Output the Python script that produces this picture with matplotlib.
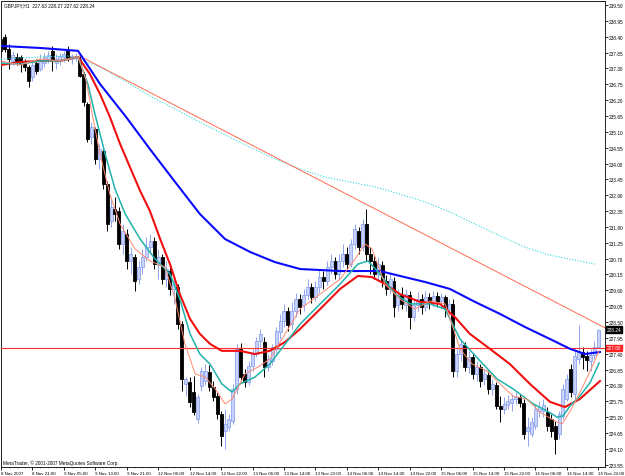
import numpy as np
import matplotlib.pyplot as plt
from matplotlib.patches import Rectangle
import matplotlib.transforms as mtransforms

plt.rcParams['font.family'] = ['Liberation Sans', 'DejaVu Sans']

# GBPJPY H1 candles, bar 0 = 8 Nov 2007 13:00
opens = [238.32, 238.39, 237.97, 237.56, 237.69, 237.69, 237.45, 237.35, 237.00, 237.49,
         237.28, 237.49, 237.63, 237.90, 237.49, 237.56, 237.69, 237.97, 237.63, 237.66,
         237.63, 237.11, 236.06, 234.92, 235.20, 234.16, 234.43, 233.29, 232.01, 232.42,
         232.35, 231.21, 231.55, 230.62, 230.76, 230.00, 230.41, 230.76, 231.10, 231.31,
         230.48, 230.76, 230.00, 230.27, 229.65, 229.72, 228.43, 226.35, 226.42, 226.07,
         225.14, 226.28, 226.45, 226.77, 226.25, 225.93, 225.31, 224.72, 224.86, 225.07,
         226.18, 227.56, 226.70, 226.42, 226.97, 227.39, 227.84, 227.81, 226.94, 227.15,
         227.56, 228.15, 228.53, 228.88, 228.43, 228.88, 229.30, 229.09, 229.44, 229.72,
         229.37, 229.72, 230.06, 229.92, 230.41, 230.62, 230.17, 230.62, 230.86, 230.51,
         231.21, 231.66, 231.10, 231.90, 230.86, 230.62, 230.17, 230.48, 229.92, 229.65,
         229.92, 229.09, 229.44, 229.09, 229.44, 228.67, 229.09, 229.30, 229.02, 229.37,
         229.16, 229.40, 229.23, 229.37, 228.95, 229.12, 226.80, 227.39, 227.70, 226.94,
         227.28, 226.70, 226.94, 226.52, 226.66, 226.18, 226.31, 225.59, 225.48, 225.62,
         225.69, 225.83, 225.90, 225.69, 224.72, 224.61, 224.89, 225.41, 225.41, 225.38,
         225.14, 224.89, 224.61, 225.24, 225.83, 226.87, 226.00, 227.22, 227.46, 227.32,
         227.15, 227.35, 227.63]
highs = [238.46, 238.49, 238.15, 237.90, 237.83, 237.76, 237.63, 237.42, 237.56, 237.63,
         237.80, 237.83, 237.90, 238.08, 237.80, 237.83, 237.90, 238.08, 237.80, 237.83,
         237.80, 237.17, 236.13, 235.44, 235.27, 234.68, 234.50, 233.39, 232.77, 232.84,
         232.49, 231.90, 231.73, 231.10, 230.86, 230.62, 231.03, 231.45, 231.55, 231.45,
         231.03, 230.86, 230.62, 230.41, 230.13, 229.82, 228.53, 226.59, 226.59, 226.63,
         226.00, 226.94, 227.04, 227.01, 226.45, 226.07, 225.41, 225.48, 225.31, 226.35,
         227.74, 227.77, 226.87, 227.15, 227.56, 227.98, 228.26, 227.98, 227.39, 227.74,
         228.33, 228.78, 229.12, 229.02, 229.19, 229.51, 229.47, 229.65, 230.00, 229.85,
         229.92, 230.34, 230.27, 230.62, 230.86, 230.76, 230.86, 231.21, 231.10, 231.38,
         231.90, 231.80, 232.07, 232.42, 231.10, 230.82, 230.76, 230.62, 230.13, 230.20,
         230.06, 229.65, 229.72, 229.65, 229.58, 229.30, 229.54, 229.47, 229.58, 229.51,
         229.58, 229.54, 229.51, 229.44, 229.30, 229.30, 227.63, 227.91, 227.81, 227.49,
         227.42, 227.15, 227.04, 226.87, 226.80, 226.52, 226.42, 225.93, 225.90, 225.97,
         226.00, 226.07, 226.00, 225.83, 225.21, 225.21, 225.66, 225.76, 225.83, 225.55,
         225.31, 225.07, 225.41, 226.35, 226.70, 227.04, 227.56, 228.40, 227.63, 227.49,
         227.56, 227.84, 228.27]
lows = [237.76, 237.87, 237.28, 237.42, 237.42, 237.17, 237.21, 236.65, 236.86, 237.11,
        237.21, 237.35, 237.49, 237.21, 237.28, 237.42, 237.52, 237.56, 237.45, 237.56,
        237.00, 235.99, 234.75, 234.68, 233.98, 233.81, 233.12, 231.66, 231.80, 232.01,
        231.03, 230.86, 230.34, 230.17, 229.58, 229.82, 230.17, 230.62, 230.86, 230.34,
        230.00, 229.82, 229.72, 229.44, 229.12, 228.26, 226.11, 225.93, 225.55, 225.27,
        225.00, 226.11, 226.31, 226.11, 225.76, 225.14, 224.20, 224.09, 224.72, 224.96,
        226.00, 226.45, 226.25, 226.31, 226.80, 227.28, 227.63, 226.59, 226.80, 227.01,
        227.42, 227.91, 228.33, 228.19, 228.26, 228.67, 228.78, 228.88, 229.30, 229.16,
        229.23, 229.51, 229.65, 229.78, 230.17, 230.00, 230.00, 230.41, 230.34, 230.41,
        231.03, 230.86, 230.96, 230.62, 230.17, 230.00, 229.92, 229.72, 229.44, 229.47,
        228.67, 228.88, 228.95, 228.88, 228.26, 228.53, 228.88, 228.78, 228.88, 228.95,
        229.02, 229.02, 228.95, 228.67, 228.74, 226.59, 226.59, 227.15, 226.80, 226.73,
        226.52, 226.45, 226.25, 226.31, 226.00, 225.97, 225.48, 225.03, 225.31, 225.48,
        225.41, 225.66, 225.55, 224.44, 224.20, 224.51, 224.79, 225.21, 225.21, 224.72,
        224.51, 223.92, 224.44, 225.14, 225.76, 225.90, 225.83, 227.04, 226.87, 226.80,
        226.80, 227.22, 227.62]
closes = [237.90, 237.97, 237.63, 237.76, 237.56, 237.45, 237.35, 236.86, 237.42, 237.21,
          237.56, 237.69, 237.76, 237.56, 237.63, 237.73, 237.80, 237.63, 237.73, 237.69,
          237.04, 236.13, 234.85, 235.27, 234.16, 234.50, 233.29, 231.90, 232.49, 232.25,
          231.21, 231.66, 230.62, 230.86, 229.92, 230.41, 230.76, 231.10, 231.31, 230.51,
          230.76, 230.00, 230.34, 229.65, 229.82, 228.43, 226.52, 226.52, 225.72, 225.38,
          225.90, 226.80, 226.80, 226.25, 225.90, 225.31, 224.54, 224.96, 225.14, 226.18,
          227.56, 226.59, 226.42, 226.97, 227.39, 227.84, 228.08, 226.94, 227.22, 227.63,
          228.19, 228.53, 228.88, 228.40, 228.88, 229.30, 229.02, 229.44, 229.72, 229.37,
          229.72, 230.06, 229.92, 230.41, 230.62, 230.17, 230.62, 230.86, 230.51, 231.21,
          231.73, 231.10, 231.90, 230.86, 230.62, 230.17, 230.51, 229.92, 229.65, 230.00,
          229.02, 229.44, 229.12, 229.47, 228.67, 229.09, 229.30, 229.02, 229.37, 229.16,
          229.40, 229.19, 229.37, 228.95, 229.12, 226.80, 227.39, 227.74, 226.94, 227.28,
          226.70, 226.94, 226.45, 226.70, 226.18, 226.35, 225.59, 225.48, 225.66, 225.76,
          225.83, 225.90, 225.69, 224.61, 224.86, 225.03, 225.48, 225.55, 225.62, 224.89,
          224.72, 224.44, 225.31, 226.18, 226.52, 226.07, 227.32, 227.49, 227.28, 227.18,
          227.35, 227.63, 228.24]

# moving averages at sample bars
blue_bars = [0, 10, 19.6, 25.2, 31.8, 37.9, 44.3, 50.6, 57, 63.4, 69.7, 76.1, 86.3, 96.4,
             101.5, 107.9, 114.2, 120.6, 127, 133.3, 139.7, 144.8, 148.6, 152.4]
blue_vals = [238.08, 238.01, 237.91, 236.76, 235.62, 234.50, 233.36, 232.25, 231.38, 230.93,
             230.58, 230.34, 230.27, 230.27, 230.10, 229.89, 229.65, 229.20, 228.78, 228.33,
             227.91, 227.57, 227.39, 227.46]

red_bars = [0, 4.8, 9.9, 15, 19.6, 22.6, 25.2, 27.7, 30.3, 32.8, 35.4, 37.9, 40.5, 43, 45.5,
            48.1, 50.6, 53.2, 56.2, 60.8, 64.6, 68.4, 72.3, 76.1, 81.2, 86.3, 90.8, 94.4,
            97.7, 101.5, 106.6, 111.7, 115.5, 119.3, 124.4, 129.5, 134.6, 139.7, 143.5,
            147.3, 152.4]
red_vals = [237.42, 237.52, 237.56, 237.56, 237.70, 237.11, 236.41, 235.62, 234.68, 233.88,
            233.05, 232.35, 231.38, 230.51, 229.47, 228.61, 228.09, 227.74, 227.50, 227.50,
            227.39, 227.50, 227.81, 228.26, 228.95, 229.65, 230.10, 230.06, 229.82, 229.47,
            229.20, 229.13, 228.67, 228.09, 227.57, 227.04, 226.35, 225.73, 225.55, 225.83,
            226.45]

teal_bars = [0, 4.8, 9.9, 15, 19.6, 22.1, 23.9, 26.5, 29, 31.6, 35.4, 39.2, 43, 45.5, 48.1,
             50.6, 53.2, 56.2, 58.8, 60.8, 64.6, 68.4, 72.3, 76.1, 81.2, 86.3, 90.8, 93.4,
             96.4, 100.3, 104.1, 109.2, 113, 116.8, 121.9, 126.2, 130.3, 135.4, 139, 141.5,
             143, 144.8, 147.3, 149.9, 152.2]
teal_vals = [237.49, 237.45, 237.56, 237.56, 237.70, 236.76, 235.72, 234.33, 233.12, 232.25,
             231.38, 230.69, 230.17, 229.30, 228.09, 227.39, 227.04, 226.35, 226.07, 226.35,
             226.59, 227.04, 227.74, 228.43, 229.13, 229.82, 230.51, 230.62, 230.17, 229.47,
             229.13, 229.13, 228.95, 227.91, 227.15, 226.53, 226.18, 225.66, 225.41, 225.20,
             225.24, 225.59, 225.93, 226.40, 227.08]

salmon_bars = [0, 4.8, 9.9, 15, 19.6, 21.6, 23.2, 25.2, 27.7, 30.3, 34.1, 37.9, 41.7, 44.3,
               46.8, 49.4, 52, 54.5, 57, 58.8, 62.1, 65.4, 68.4, 72.3, 76.1, 81.2, 86.3,
               90.1, 92.6, 94.4, 97.7, 101.5, 105.3, 109.2, 113, 116.8, 119.9, 123.7, 127,
               130.3, 133.8, 137.2, 141, 142.8, 144.8, 147.3, 149.9, 152.2]
salmon_vals = [237.56, 237.42, 237.63, 237.56, 237.70, 236.93, 235.72, 234.33, 232.94, 231.90,
               231.04, 230.62, 230.41, 229.30, 227.74, 226.70, 226.59, 226.18, 225.66, 225.83,
               226.70, 226.94, 227.22, 228.09, 228.95, 229.47, 229.99, 230.69, 231.21, 231.04,
               229.82, 229.30, 228.95, 229.23, 229.13, 227.57, 227.04, 226.80, 226.35, 225.93,
               225.83, 225.37, 225.06, 224.96, 225.41, 226.05, 226.80, 227.50]

cyan_bars = [0, 10, 17.6, 25.2, 31.6, 37.9, 44.3, 50.6, 57, 63.4, 69.7, 76.1, 82.4, 88.8,
             95.2, 101.5, 107.9, 114.2, 120.6, 127, 133.3, 139.7, 146, 151.1]
cyan_vals = [237.63, 237.70, 237.73, 237.35, 236.86, 236.34, 235.89, 235.44, 234.99, 234.57,
             234.16, 233.81, 233.53, 233.36, 233.19, 232.94, 232.67, 232.32, 231.90, 231.49,
             231.10, 230.82, 230.65, 230.51]

trend_bars = [20, 153.7]
trend_vals = [237.73, 228.30]
hline_price = 227.60
last_price = 228.24

time_ticks = [0, 8, 16, 24, 32, 40, 48, 56, 64, 72, 80, 88, 96, 104, 112, 120, 128, 136, 144, 152]
time_labels = ['8 Nov 2007', '8 Nov 21:00', '9 Nov 05:00', '9 Nov 13:00', '9 Nov 21:00',
               '12 Nov 06:00', '12 Nov 14:00', '12 Nov 22:00', '13 Nov 06:00', '13 Nov 14:00',
               '13 Nov 22:00', '14 Nov 06:00', '14 Nov 14:00', '14 Nov 22:00', '15 Nov 06:00',
               '15 Nov 14:00', '15 Nov 22:00', '16 Nov 06:00', '16 Nov 14:00', '16 Nov 22:00']
price_ticks = [239.50, 238.95, 238.40, 237.85, 237.30, 236.75, 236.20, 235.65, 235.10, 234.55,
               234.00, 233.45, 232.90, 232.35, 231.80, 231.25, 230.70, 230.15, 229.60, 229.05,
               228.50, 227.95, 227.40, 226.85, 226.30, 225.75, 225.20, 224.65, 224.10, 223.55]

W, H = 625, 477
fig = plt.figure(figsize=(W / 100, H / 100), dpi=100)
ax = fig.add_axes([1 / W, 1 - 468 / H, 604 / W, 466 / H])
ax.set_xlim(0, 604 / 3.93)
ax.set_ylim(223.47, 239.64)

up_face, up_edge = '#c8d2fa', '#8ea4ee'
for i in range(len(closes)):
    o, h, l, c = opens[i], highs[i], lows[i], closes[i]
    lo, hi = min(o, c), max(o, c)
    if c >= o:
        face, edge = up_face, up_edge
    else:
        face, edge = 'black', 'black'
    ax.vlines(i, l, h, color=edge, lw=0.7, zorder=2)
    ax.add_patch(Rectangle((i - 0.38, lo), 0.76, max(hi - lo, 0.02), facecolor=face,
                           edgecolor=edge, linewidth=0.6, zorder=2))

ax.plot(cyan_bars, cyan_vals, color='#30d8d8', lw=0.8, ls=(0, (1, 1.5)), zorder=3)
ax.plot(trend_bars, trend_vals, color='#ff6a50', lw=0.7, zorder=3)
ax.axhline(hline_price, color='#ff3030', lw=0.8, zorder=3)
ax.plot(blue_bars, blue_vals, color='#0a0aff', lw=1.5, zorder=4)
ax.plot(red_bars, red_vals, color='#f01010', lw=1.5, zorder=4)
ax.plot(teal_bars, teal_vals, color='#20b2aa', lw=1.1, zorder=4)
ax.plot(salmon_bars, salmon_vals, color='#ff8a70', lw=0.7, zorder=4)

for s in ax.spines.values():
    s.set_linewidth(0.7)
    s.set_color('#202020')

ax.yaxis.tick_right()
ax.set_yticks(price_ticks)
ax.set_yticklabels(['%.2f' % p for p in price_ticks])
ax.tick_params(axis='y', length=1.8, width=0.6, pad=0.6, labelsize=3.4, colors='black')
ax.set_xticks(time_ticks)
ax.set_xticklabels(time_labels, ha='left')
ax.set_xticks(range(0, 154, 2), minor=True)
ax.tick_params(axis='x', length=1.8, width=0.6, pad=0.8, labelsize=3.15, colors='black')
ax.tick_params(axis='x', which='minor', length=0.8, width=0.4, colors='#606060')

trans = mtransforms.blended_transform_factory(ax.transAxes, ax.transData)
ax.text(1.003, last_price, '%.2f' % last_price, transform=trans, fontsize=3.4, color='white',
        va='center', ha='left', bbox=dict(boxstyle='square,pad=0.2', fc='black', ec='black'))
ax.text(1.003, hline_price, '%.2f' % hline_price, transform=trans, fontsize=3.4, color='white',
        va='center', ha='left', bbox=dict(boxstyle='square,pad=0.2', fc='#ff2020', ec='#ff2020'))

fig.text(4 / W, 1 - 6 / H, 'GBPJPY,H1  227.63 228.27 227.62 228.24', fontsize=3.4, va='center')
fig.text(3 / W, 1 - 463 / H, 'MetaTrader, \u00a9 2001-2007 MetaQuotes Software Corp.',
         fontsize=3.4, va='center')

fig.savefig('out.png', dpi=100)
